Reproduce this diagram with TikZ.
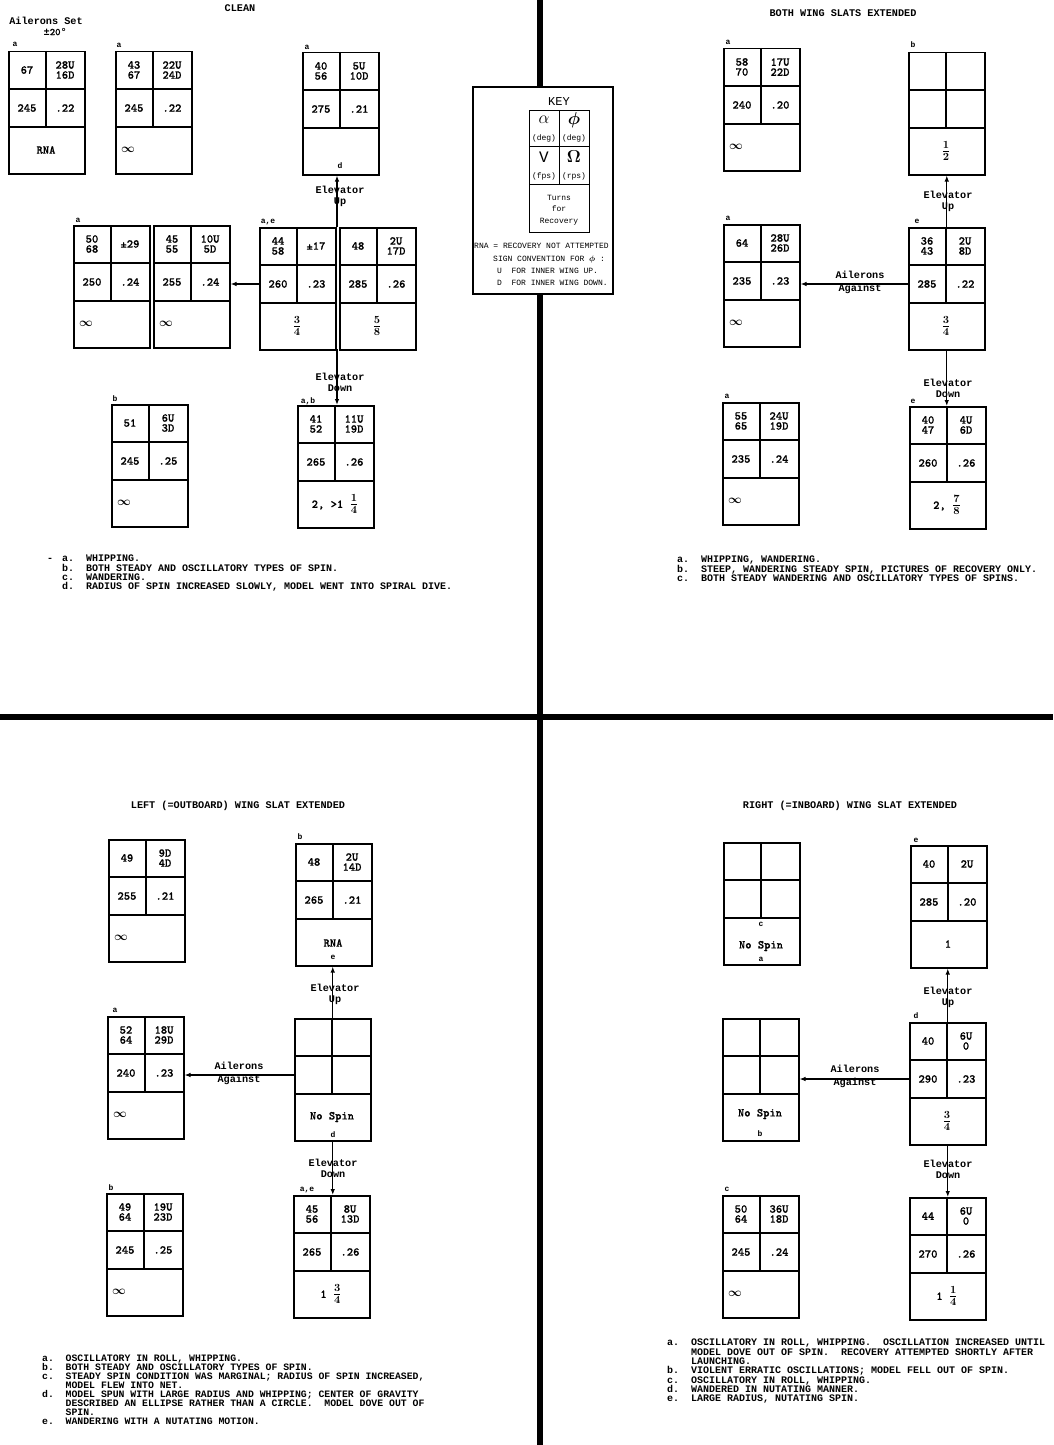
\documentclass[tikz,border=0pt]{standalone}
\usepackage{bm}
\usepackage{fontspec}
\setmainfont{Liberation Mono}
\newfontfamily\cellfont[FakeBold=0.6]{lmmonolt10-bold.otf}
\usetikzlibrary{calc,arrows.meta}
\tikzset{
 sbox/.style={draw, line width=1.5pt, minimum width=76pt, minimum height=122pt, anchor=north west, inner sep=0pt},
 cellline/.style={line width=1.3pt},
 ctext/.style={font=\cellfont\fontsize{12}{10}\selectfont, align=center, inner sep=0pt},
 lbl/.style={font=\bfseries\fontsize{8}{8}\selectfont, inner sep=0pt},
 note/.style={font=\bfseries\fontsize{10}{9.3}\selectfont, align=left, anchor=north west, inner sep=0pt},
 ttl/.style={font=\bfseries\fontsize{10.2}{10}\selectfont, inner sep=0pt},
 elab/.style={font=\bfseries\fontsize{10.2}{11}\selectfont, align=center, inner sep=0pt},
 keyt/.style={font=\fontsize{8}{8}\selectfont, inner sep=0pt},
 arr/.style={line width=1.1pt, -{Latex[length=6pt,width=4.5pt]}},
}
\newcommand\spinbox[7]{%
 \node[sbox] (#1) at (#2,#3) {};
 \draw[cellline] ($(#1.north west)+(38,0)$) -- ++(0,76);
 \draw[cellline] ($(#1.north west)+(0,38)$) -- ++(76,0);
 \draw[cellline] ($(#1.north west)+(0,76)$) -- ++(76,0);
 \node[ctext] (#1tl) at ($(#1.north west)+(19,19)$) {#4};
 \node[ctext] (#1tr) at ($(#1.north west)+(57,19)$) {#5};
 \node[ctext] (#1ml) at ($(#1.north west)+(19,57)$) {#6};
 \node[ctext] (#1mr) at ($(#1.north west)+(57,57)$) {#7};
}
\newcommand\sbot[2]{\node[ctext] (#1bot) at ($(#1.north west)+(38,99)$) {#2};}
\newcommand\sinf[1]{\node[ctext,anchor=west] (#1bot) at ($(#1.north west)+(6,99)$) {$\bm{\infty}$};}
\newcommand\fr[2]{{\fontsize{15}{15}\selectfont$\bm{\frac{#1}{#2}}$}}
\begin{document}
\begin{tikzpicture}[x=1pt,y=-1pt]
\useasboundingbox (0,0) rectangle (1053,1445);
\clip (0,0) rectangle (1053,1445);
\fill[white] (0,0) rectangle (1053,1445);
% dividers
\fill (537,0) rectangle (543,86);
\fill (537,293) rectangle (543,1445);
\fill (0,714) rectangle (1053,720);

% ===== KEY =====
\node[draw, line width=1.8pt, minimum width=140pt, minimum height=207pt, anchor=north west, inner sep=0pt] (key) at (472,86) {};
\node[font=\fontsize{12}{12}\selectfont, inner sep=0pt] (keytitle) at (559,102) {KEY};
\draw[line width=1pt] (529,110) rectangle (589,232);
\draw[line width=1pt] (529,146) -- (589,146);
\draw[line width=1pt] (529,184) -- (589,184);
\draw[line width=1pt] (559,110) -- (559,184);
\node[inner sep=0pt, font=\fontsize{16}{16}\selectfont] (kal) at (544,120) {$\alpha$};
\node[inner sep=0pt, font=\fontsize{16}{16}\selectfont] (kph) at (574,120) {$\bm{\phi}$};
\node[keyt] (kdeg1) at (544,138) {(deg)};
\node[keyt] (kdeg2) at (574,138) {(deg)};
\node[inner sep=0pt, font=\fontsize{16}{16}\selectfont] (kv) at (544,157) {$\mathrm{V}$};
\node[inner sep=0pt, font=\fontsize{16}{16}\selectfont] (kom) at (574,157) {$\bm{\Omega}$};
\node[keyt] (kfps) at (544,176) {(fps)};
\node[keyt] (krps) at (574,176) {(rps)};
\node[keyt, align=center, font=\fontsize{8}{11.5}\selectfont] (kturns) at (559,210) {Turns\\for\\Recovery};
\node[keyt, anchor=west] (krna) at (474,246) {RNA = RECOVERY NOT ATTEMPTED};
\node[keyt, anchor=west] (ksign) at (493,259) {SIGN CONVENTION FOR $\bm{\phi}$ :};
\node[keyt, anchor=west] (ku) at (497,271) {U\ \ FOR INNER WING UP.};
\node[keyt, anchor=west] (kd) at (497,283) {D\ \ FOR INNER WING DOWN.};

% ===== TOP LEFT : CLEAN =====
\node[ttl] (tclean) at (240,8) {CLEAN};
\node[elab] (ailset) at (46,26) {Ailerons Set\\\ \ \ ±{\cellfont 20}°};
\spinbox{cla}{8}{51}{67}{28U\\16D}{245}{.22}
\sbot{cla}{RNA}
\node[lbl] (claL) at (15,44) {a};
\spinbox{clb}{115}{51}{43\\67}{22U\\24D}{245}{.22}
\sinf{clb}
\node[lbl] (clbL) at (119,45) {a};
\spinbox{clc}{302}{52}{40\\56}{5U\\10D}{275}{.21}
\node[lbl] (clcd) at (340,166) {d};
\node[lbl] (clcL) at (307,47) {a};
\spinbox{cld}{73}{225}{50\\68}{±29}{250}{.24}
\sinf{cld}
\node[lbl] (cldL) at (78,220) {a};
\spinbox{cle}{153}{225}{45\\55}{10U\\5D}{255}{.24}
\sinf{cle}
\spinbox{clf}{259}{227}{44\\58}{±17}{260}{.23}
\sbot{clf}{\fr34}
\node[lbl] (clfL) at (268,222) {a,e};
\spinbox{clg}{339}{227}{48}{2U\\17D}{285}{.26}
\sbot{clg}{\fr58}
\spinbox{clh}{111}{404}{51}{6U\\3D}{245}{.25}
\sinf{clh}
\node[lbl] (clhL) at (115,399) {b};
\spinbox{cli}{297}{405}{41\\52}{11U\\19D}{265}{.26}
\sbot{cli}{2, >1 \fr14}
\node[lbl] (cliL) at (308,401) {a,b};
\coordinate (cle1) at (337,227);
\draw[arr] (cle1) -- (cle1 |- clc.south);
\node[elab] (clup) at (340,196) {Elevator\\Up};
\coordinate (cle2) at (337,349);
\draw[arr] (cle2) -- (cle2 |- cli.north);
\node[elab] (cldn) at (340,382) {Elevator\\Down};
\draw[arr] (clf.west |- clfml) -- (cle.east |- clfml);
\node[lbl, font=\bfseries\fontsize{10}{10}\selectfont] (cldash) at (50,560) {-};
\node[note] (clnotes) at (62,555) {a.\ \ WHIPPING.\\
b.\ \ BOTH STEADY AND OSCILLATORY TYPES OF SPIN.\\
c.\ \ WANDERING.\\
d.\ \ RADIUS OF SPIN INCREASED SLOWLY, MODEL WENT INTO SPIRAL DIVE.};

% ===== TOP RIGHT : BOTH WING SLATS =====
\node[ttl] (tboth) at (843,13) {BOTH WING SLATS EXTENDED};
\spinbox{bwa}{723}{48}{58\\70}{17U\\22D}{240}{.20}
\sinf{bwa}
\node[lbl] (bwaL) at (728,42) {a};
\spinbox{bwb}{908}{52}{}{}{}{}
\sbot{bwb}{\fr12}
\node[lbl] (bwbL) at (913,45) {b};
\spinbox{bwc}{723}{224}{64}{28U\\26D}{235}{.23}
\sinf{bwc}
\node[lbl] (bwcL) at (728,218) {a};
\spinbox{bwd}{908}{227}{36\\43}{2U\\8D}{285}{.22}
\sbot{bwd}{\fr34}
\node[lbl] (bwdL) at (917,221) {e};
\spinbox{bwe}{722}{402}{55\\65}{24U\\19D}{235}{.24}
\sinf{bwe}
\node[lbl] (bweL) at (727,396) {a};
\spinbox{bwf}{909}{406}{40\\47}{4U\\6D}{260}{.26}
\sbot{bwf}{2, \fr78}
\node[lbl] (bwfL) at (913,401) {e};
\draw[arr] (bwd.north) -- (bwd.north |- bwb.south);
\node[elab] (bwup) at (948,201) {Elevator\\Up};
\draw[arr] (bwd.south) -- (bwd.south |- bwf.north);
\node[elab] (bwdn) at (948,388) {Elevator\\Down};
\draw[arr] (bwd.west |- bwdml) -- (bwc.east |- bwdml);
\node[elab, font=\bfseries\fontsize{10.2}{13}\selectfont] (bwail) at (860,282) {Ailerons\\Against};
\node[note] (bwnotes) at (677,556) {a.\ \ WHIPPING, WANDERING.\\
b.\ \ STEEP, WANDERING STEADY SPIN, PICTURES OF RECOVERY ONLY.\\
c.\ \ BOTH STEADY WANDERING AND OSCILLATORY TYPES OF SPINS.};

% ===== BOTTOM LEFT : LEFT WING SLAT =====
\node[ttl] (tleft) at (238,806) {LEFT (=OUTBOARD) WING SLAT EXTENDED};
\spinbox{lwa}{108}{839}{49}{9D\\4D}{255}{.21}
\sinf{lwa}
\spinbox{lwb}{295}{843}{48}{2U\\14D}{265}{.21}
\node[ctext] (lwbbot) at (333,943) {RNA};
\node[lbl] (lwbe) at (333,957) {e};
\node[lbl] (lwbL) at (300,837) {b};
\spinbox{lwc}{294}{1018}{}{}{}{}
\node[ctext] (lwcbot) at (332,1117) {No Spin};
\node[lbl] (lwcd) at (333,1135) {d};
\spinbox{lwd}{107}{1016}{52\\64}{18U\\29D}{240}{.23}
\sinf{lwd}
\node[lbl] (lwdL) at (115,1010) {a};
\spinbox{lwe}{293}{1195}{45\\56}{8U\\13D}{265}{.26}
\sbot{lwe}{1 \fr34}
\node[lbl] (lweL) at (307,1190) {a,e};
\spinbox{lwf}{106}{1193}{49\\64}{19U\\23D}{245}{.25}
\sinf{lwf}
\node[lbl] (lwfL) at (111,1188) {b};
\draw[arr] (lwc.north) -- (lwc.north |- lwb.south);
\node[elab] (lwup) at (335,994) {Elevator\\Up};
\draw[arr] (lwc.west |- lwcml) -- (lwd.east |- lwcml);
\node[elab, font=\bfseries\fontsize{10.2}{13}\selectfont] (lwail) at (239,1073) {Ailerons\\Against};
\draw[arr] (lwc.south) -- (lwc.south |- lwe.north);
\node[elab] (lwdn) at (333,1168) {Elevator\\Down};
\node[note, font=\bfseries\fontsize{9.8}{8.9}\selectfont] (lwnotes) at (42,1355) {a.\ \ OSCILLATORY IN ROLL, WHIPPING.\\
b.\ \ BOTH STEADY AND OSCILLATORY TYPES OF SPIN.\\
c.\ \ STEADY SPIN CONDITION WAS MARGINAL; RADIUS OF SPIN INCREASED,\\
\ \ \ \ MODEL FLEW INTO NET.\\
d.\ \ MODEL SPUN WITH LARGE RADIUS AND WHIPPING; CENTER OF GRAVITY\\
\ \ \ \ DESCRIBED AN ELLIPSE RATHER THAN A CIRCLE.\ \ MODEL DOVE OUT OF\\
\ \ \ \ SPIN.\\
e.\ \ WANDERING WITH A NUTATING MOTION.};

% ===== BOTTOM RIGHT : RIGHT WING SLAT =====
\node[ttl] (tright) at (850,806) {RIGHT (=INBOARD) WING SLAT EXTENDED};
\spinbox{rwa}{723}{842}{}{}{}{}
\node[lbl] (rwac) at (761,924) {c};
\node[ctext] (rwabot) at (761,946) {No Spin};
\node[lbl] (rwaa) at (761,959) {a};
\spinbox{rwb}{910}{845}{40}{2U}{285}{.20}
\sbot{rwb}{1}
\node[lbl] (rwbL) at (916,840) {e};
\spinbox{rwc}{909}{1022}{40}{6U\\0}{290}{.23}
\sbot{rwc}{\fr34}
\node[lbl] (rwcL) at (916,1016) {d};
\spinbox{rwd}{722}{1018}{}{}{}{}
\node[ctext] (rwdbot) at (760,1114) {No Spin};
\node[lbl] (rwdb) at (760,1134) {b};
\spinbox{rwe}{909}{1197}{44}{6U\\0}{270}{.26}
\sbot{rwe}{1 \fr14}
\spinbox{rwf}{722}{1195}{50\\64}{36U\\18D}{245}{.24}
\sinf{rwf}
\node[lbl] (rwfL) at (727,1189) {c};
\draw[arr] (rwc.north) -- (rwc.north |- rwb.south);
\node[elab] (rwup) at (948,997) {Elevator\\Up};
\draw[arr] (rwc.west |- rwcml) -- (rwd.east |- rwcml);
\node[elab, font=\bfseries\fontsize{10.2}{13}\selectfont] (rwail) at (855,1076) {Ailerons\\Against};
\draw[arr] (rwc.south) -- (rwc.south |- rwe.north);
\node[elab] (rwdn) at (948,1169) {Elevator\\Down};
\node[note] (rwnotes) at (667,1339) {a.\ \ OSCILLATORY IN ROLL, WHIPPING.\ \ OSCILLATION INCREASED UNTIL\\
\ \ \ \ MODEL DOVE OUT OF SPIN.\ \ RECOVERY ATTEMPTED SHORTLY AFTER\\
\ \ \ \ LAUNCHING.\\
b.\ \ VIOLENT ERRATIC OSCILLATIONS; MODEL FELL OUT OF SPIN.\\
c.\ \ OSCILLATORY IN ROLL, WHIPPING.\\
d.\ \ WANDERED IN NUTATING MANNER.\\
e.\ \ LARGE RADIUS, NUTATING SPIN.};
\end{tikzpicture}
\end{document}
